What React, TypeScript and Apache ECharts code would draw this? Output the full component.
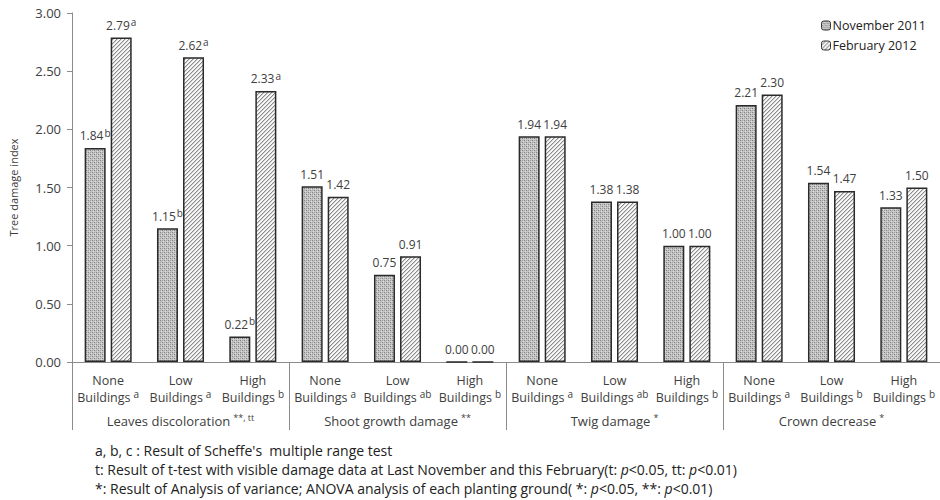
import React, { useEffect, useRef } from "react";
import * as echarts from "echarts";

const categories = ["None", "Low", "High", "None", "Low", "High", "None", "Low", "High", "None", "Low", "High"];
const categoryLetters = ["a", "a", "b", "a", "ab", "b", "a", "ab", "b", "a", "b", "b"];
const groups = ["Leaves discoloration", "Shoot growth damage", "Twig damage", "Crown decrease"];
const groupMarks = ["**, tt", "**", "*", "*"];
const novValues = [1.84, 1.15, 0.22, 1.51, 0.75, 0.0, 1.94, 1.38, 1.0, 2.21, 1.54, 1.33];
const febValues = [2.79, 2.62, 2.33, 1.42, 0.91, 0.0, 1.94, 1.38, 1.0, 2.3, 1.47, 1.5];
const novLetters = ["b", "b", "b", "", "", "", "", "", "", "", "", ""];
const febLetters = ["a", "a", "a", "", "", "", "", "", "", "", "", ""];
const seriesNames = ["November 2011", "February 2012"];
const yTicks = { min: 0, max: 3, interval: 0.5 };

const FONT = "'Open Sans', 'Noto Sans', sans-serif";
const TXT = "#404040";

function makeStipple(): HTMLCanvasElement {
  const c = document.createElement("canvas");
  c.width = 4;
  c.height = 4;
  const ctx = c.getContext("2d")!;
  ctx.fillStyle = "#c4c4c4";
  ctx.fillRect(0, 0, 4, 4);
  ctx.fillStyle = "#808080";
  ctx.fillRect(0, 0, 1, 1);
  ctx.fillRect(2, 2, 1, 1);
  ctx.fillStyle = "#a2a2a2";
  ctx.fillRect(2, 0, 1, 1);
  ctx.fillRect(0, 2, 1, 1);
  ctx.fillStyle = "#dcdcdc";
  ctx.fillRect(1, 3, 1, 1);
  ctx.fillRect(3, 1, 1, 1);
  return c;
}

function makeHatch(): HTMLCanvasElement {
  const c = document.createElement("canvas");
  c.width = 4;
  c.height = 4;
  const ctx = c.getContext("2d")!;
  ctx.fillStyle = "#f7f7f7";
  ctx.fillRect(0, 0, 4, 4);
  ctx.fillStyle = "#8a8a8a";
  for (let i = 0; i < 4; i++) {
    ctx.fillRect(i, 3 - i, 1, 1);
  }
  ctx.fillStyle = "#d0d0d0";
  for (let i = 0; i < 4; i++) {
    ctx.fillRect((i + 1) % 4, 3 - i, 1, 1);
  }
  return c;
}

export default function App() {
  const ref = useRef<HTMLDivElement>(null);
  useEffect(() => {
    if (!ref.current) return;
    const chart = echarts.init(ref.current, null, { renderer: "svg" });
    const stipple = { image: makeStipple(), repeat: "repeat" } as any;
    const hatch = { image: makeHatch(), repeat: "repeat" } as any;

    const valueLabel = (letters: string[]) => ({
      show: true,
      position: "top",
      distance: 4,
      formatter: (p: any) => {
        const l = letters[p.dataIndex];
        return "{v|" + p.value.toFixed(2) + "}" + (l ? "{s|" + l + "}" : "");
      },
      rich: {
        v: { fontSize: 12, color: TXT, fontFamily: FONT, lineHeight: 16 },
        s: { fontSize: 10, color: TXT, fontFamily: FONT, verticalAlign: "top", lineHeight: 16, padding: [0, 0, 6, 1] },
      },
    });

    const noteStyle = {
      fontSize: 14,
      fill: "#222",
      fontFamily: FONT,
    };

    chart.setOption({
      animation: false,
      textStyle: { fontFamily: FONT },
      legend: {
        orient: "vertical",
        left: 816,
        top: 14,
        itemWidth: 9,
        itemHeight: 9,
        itemGap: 7,
        itemStyle: { borderColor: "#333", borderWidth: 1 },
        textStyle: { fontSize: 12.5, color: "#222", fontFamily: FONT, padding: [0, 0, 0, -3] },
        data: seriesNames,
      },
      grid: { left: 72, right: 0, top: 13, bottom: 138 },
      xAxis: [
        {
          type: "category",
          data: categories,
          axisLine: { show: true, lineStyle: { color: "#8c8c8c", width: 1 } },
          axisTick: { show: false },
          axisLabel: {
            interval: 0,
            margin: 10,
            formatter: (v: string, i: number) =>
              "{n|" + v + "}\n{n|Buildings}{s|" + categoryLetters[i] + "}",
            rich: {
              n: { fontSize: 12.5, color: TXT, fontFamily: FONT, lineHeight: 17, align: "center" },
              s: { fontSize: 10, color: TXT, fontFamily: FONT, verticalAlign: "top", lineHeight: 17, padding: [0, 0, 4, 3] },
            },
          },
        },
        {
          type: "category",
          data: groups,
          position: "bottom",
          axisLine: { show: false },
          axisTick: { show: true, length: 68, lineStyle: { color: "#8c8c8c", width: 1 } },
          axisLabel: {
            interval: 0,
            margin: 51,
            formatter: (v: string, i: number) => "{n|" + v + "}{s|" + groupMarks[i] + "}",
            rich: {
              n: { fontSize: 13, color: TXT, fontFamily: FONT, lineHeight: 16 },
              s: { fontSize: 9, color: TXT, fontFamily: FONT, verticalAlign: "top", lineHeight: 16, padding: [0, 0, 5, 3] },
            },
          },
        },
      ],
      yAxis: {
        type: "value",
        min: yTicks.min,
        max: yTicks.max,
        interval: yTicks.interval,
        name: "Tree damage index",
        nameLocation: "middle",
        nameGap: 53,
        nameTextStyle: { fontSize: 11, color: TXT, fontFamily: FONT },
        axisLine: { show: true, lineStyle: { color: "#8c8c8c", width: 1 } },
        axisTick: { show: true, length: 5, lineStyle: { color: "#8c8c8c" } },
        splitLine: { show: false },
        axisLabel: {
          formatter: (v: number) => v.toFixed(2),
          fontSize: 13,
          color: TXT,
          fontFamily: FONT,
          margin: 11,
        },
      },
      series: [
        {
          name: seriesNames[0],
          type: "bar",
          data: novValues,
          barWidth: 21,
          barGap: "24%",
          itemStyle: { color: stipple, borderColor: "#2a2a2a", borderWidth: 1.5 },
          label: valueLabel(novLetters),
        },
        {
          name: seriesNames[1],
          type: "bar",
          data: febValues,
          barWidth: 21,
          itemStyle: { color: hatch, borderColor: "#2a2a2a", borderWidth: 1.5 },
          label: valueLabel(febLetters),
        },
      ],
      graphic: [
        {
          type: "text",
          left: 95,
          top: 443,
          style: { text: "a, b, c : Result of Scheffe's  multiple range test", ...noteStyle },
        },
        {
          type: "text",
          left: 95,
          top: 462,
          style: {
            text: "t: Result of t-test with visible damage data at Last November and this February(t: {i|p}<0.05, tt: {i|p}<0.01)",
            ...noteStyle,
            rich: { i: { fontStyle: "italic", ...noteStyle } },
          },
        },
        {
          type: "text",
          left: 95,
          top: 481,
          style: {
            text: "*: Result of Analysis of variance; ANOVA analysis of each planting ground( *: {i|p}<0.05, **: {i|p}<0.01)",
            ...noteStyle,
            rich: { i: { fontStyle: "italic", ...noteStyle } },
          },
        },
      ],
    });
    return () => chart.dispose();
  }, []);
  return <div ref={ref} style={{ width: 940, height: 500, position: "absolute", left: 0, top: 0 }} />;
}
